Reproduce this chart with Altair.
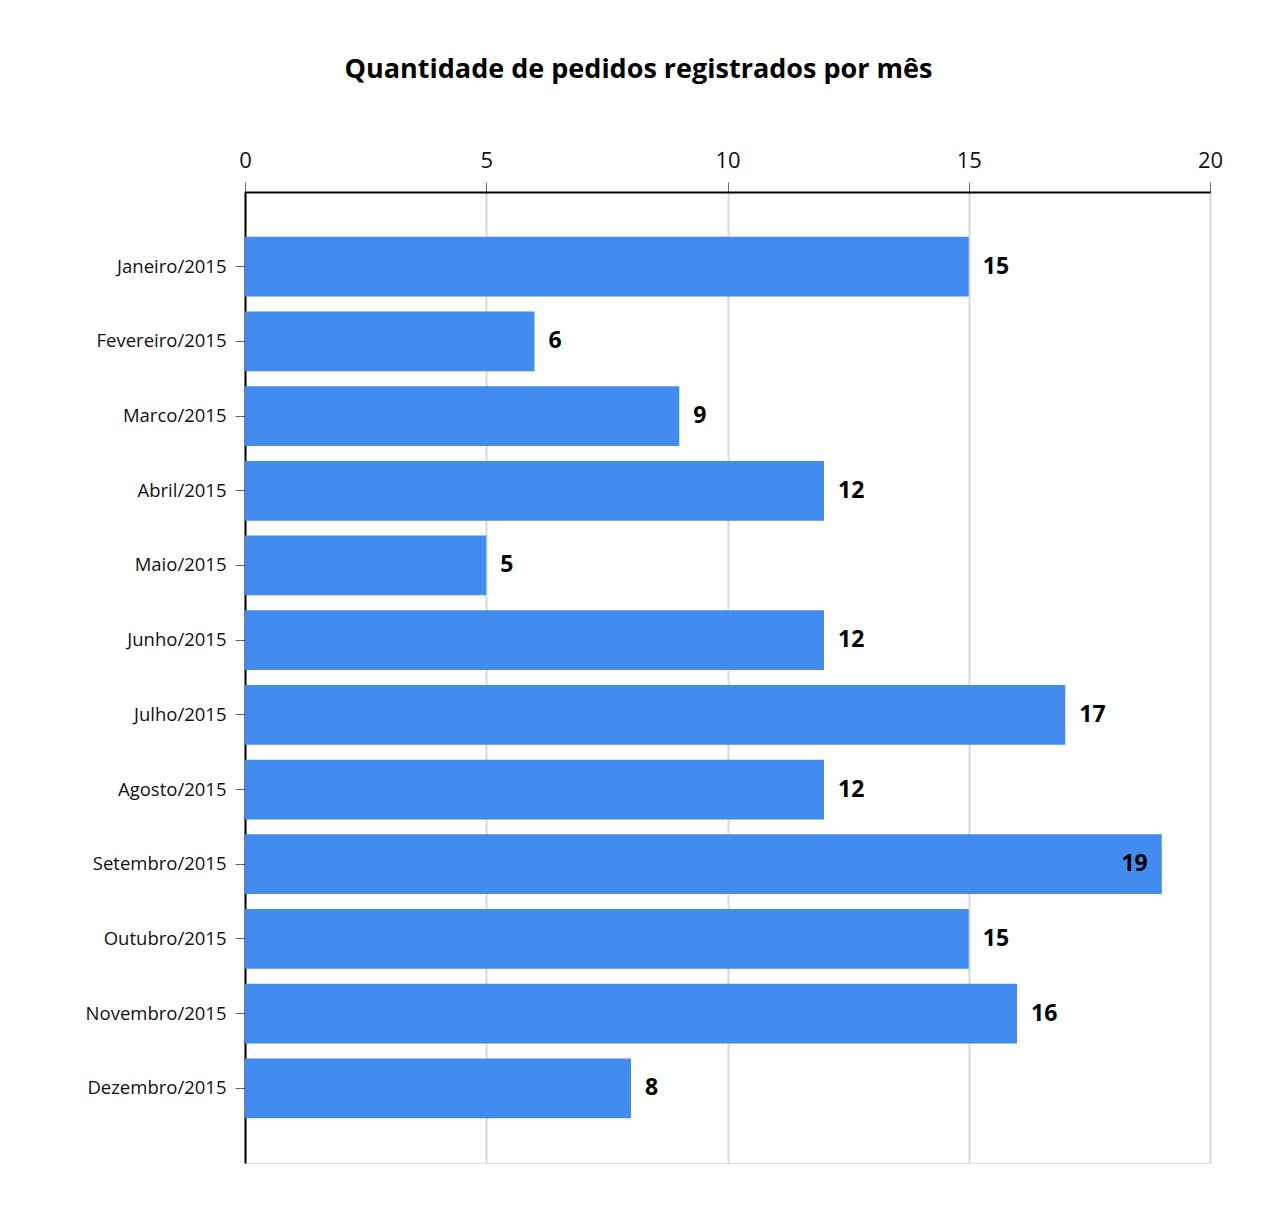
import altair as alt
import pandas as pd

months = ["Janeiro/2015", "Fevereiro/2015", "Marco/2015", "Abril/2015", "Maio/2015",
          "Junho/2015", "Julho/2015", "Agosto/2015", "Setembro/2015", "Outubro/2015",
          "Novembro/2015", "Dezembro/2015"]
values = [15, 6, 9, 12, 5, 12, 17, 12, 19, 15, 16, 8]

df = pd.DataFrame({"mes": months, "pedidos": values})

FONT = "Open Sans"
BLUE = "#428BEF"

y_enc = alt.Y("mes:N", sort=months, title=None,
              scale=alt.Scale(paddingInner=0.2, paddingOuter=0.6),
              axis=alt.Axis(labelFont=FONT, labelFontSize=18.5, labelColor="#111",
                            tickColor="#666", tickSize=10, tickWidth=1, labelPadding=9,
                            domainColor="#000", domainWidth=2, grid=False))
x_enc = alt.X("pedidos:Q", title=None,
              scale=alt.Scale(domain=[0, 20], nice=False),
              axis=alt.Axis(orient="top", values=[0, 5, 10, 15, 20], labelFont=FONT,
                            labelFontSize=22, labelColor="#111", tickColor="#666",
                            tickSize=10, tickWidth=1, labelPadding=10, labelFlush=False,
                            domainColor="#000", domainWidth=2,
                            grid=True, gridColor="#d9d9d9", gridWidth=2))

base = alt.Chart(df)
bars = base.mark_bar(color=BLUE).encode(x=x_enc, y=y_enc)
outside = base.transform_filter(alt.datum.pedidos < 18).mark_text(
    align="left", baseline="middle", dx=14, font=FONT, fontSize=23, fontWeight="bold",
    color="#000").encode(x="pedidos:Q", y=alt.Y("mes:N", sort=months), text="pedidos:Q")
inside = base.transform_filter(alt.datum.pedidos >= 18).mark_text(
    align="right", baseline="middle", dx=-14, font=FONT, fontSize=23, fontWeight="bold",
    color="#000").encode(x="pedidos:Q", y=alt.Y("mes:N", sort=months), text="pedidos:Q")

chart = alt.layer(bars, outside, inside).properties(
    width=965, height=971,
    title=alt.TitleParams("Quantidade de pedidos registrados por mês", font=FONT,
                          fontSize=27, fontWeight="bold", color="#000",
                          anchor="middle", frame="group", dx=-89, offset=65),
    padding={"left": 77, "top": 48, "right": 5, "bottom": 5},
).configure_view(stroke=None).configure(background="white")

chart.save("out.html", embed_options={"renderer": "svg", "actions": False})
